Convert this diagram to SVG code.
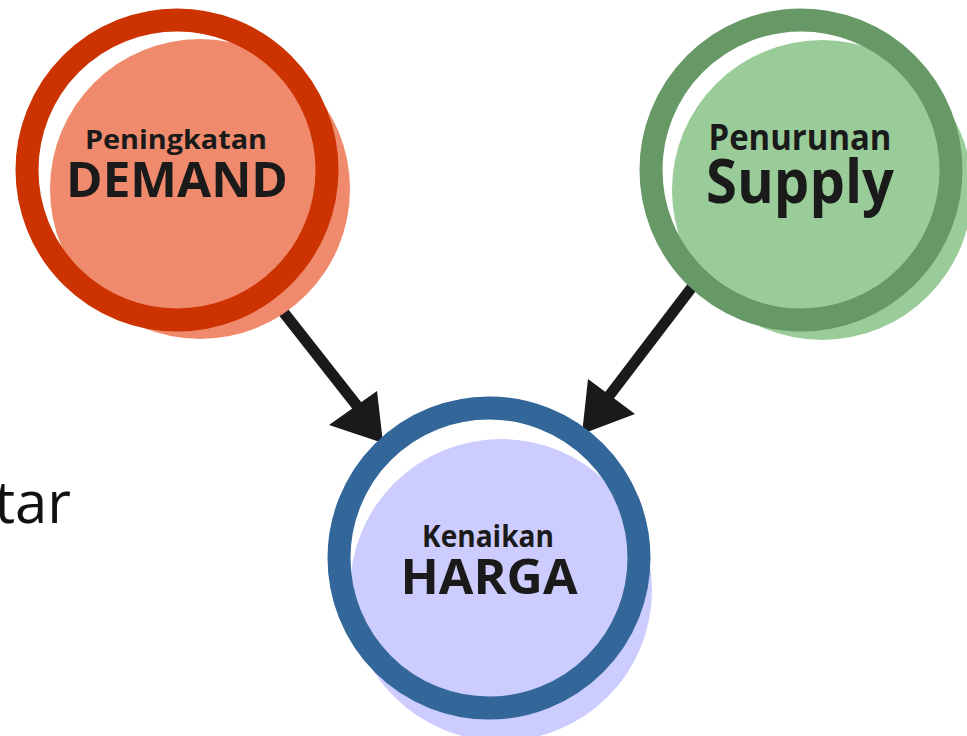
<svg xmlns="http://www.w3.org/2000/svg" width="967" height="736" viewBox="0 0 967 736">
  <defs>
    <style>
      .ring { fill: none; stroke-width: 23; }
      .lbl { font-family: "Open Sans", "Noto Sans", "DejaVu Sans", sans-serif; font-weight: bold; fill: #1a1a1a; text-anchor: middle; }
      .conn { stroke: #1a1a1a; stroke-width: 11; fill: none; }
      .head { fill: #1a1a1a; }
    </style>
  </defs>
  <rect width="967" height="736" fill="#ffffff"/>
  <text x="71" y="523" font-family="'Open Sans', 'Noto Sans', sans-serif" font-size="58" fill="#111111" text-anchor="end">tar</text>
  <g id="connectors">
    <line class="conn" x1="270" y1="295" x2="358" y2="407"/>
    <polygon class="head" points="329,425 377,391 383,443"/>
    <line class="conn" x1="702" y1="274" x2="609" y2="396"/>
    <polygon class="head" points="588,379 635,414 582,434"/>
  </g>
  <g id="node-demand">
    <circle cx="200" cy="189" r="150" fill="#ef8a6c"/>
    <circle class="ring" cx="177" cy="170" r="150" stroke="#cc3300"/>
    <text class="lbl" x="176" y="149" font-size="27" textLength="182" lengthAdjust="spacingAndGlyphs">Peningkatan</text>
    <text class="lbl" x="177" y="197" font-size="48" textLength="222" lengthAdjust="spacingAndGlyphs">DEMAND</text>
  </g>
  <g id="node-supply">
    <circle cx="822" cy="190" r="150" fill="#99cc99"/>
    <circle class="ring" cx="801" cy="170" r="150" stroke="#669966"/>
    <text class="lbl" x="800" y="150" font-size="35" textLength="183" lengthAdjust="spacingAndGlyphs">Penurunan</text>
    <text class="lbl" x="800" y="203" font-size="60" textLength="188" lengthAdjust="spacingAndGlyphs">Supply</text>
  </g>
  <g id="node-harga">
    <circle cx="501" cy="590" r="151" fill="#ccccff"/>
    <circle class="ring" cx="489" cy="558" r="150" stroke="#336699"/>
    <text class="lbl" x="488" y="547" font-size="31" textLength="132" lengthAdjust="spacingAndGlyphs">Kenaikan</text>
    <text class="lbl" x="489" y="594" font-size="49" textLength="177" lengthAdjust="spacingAndGlyphs">HARGA</text>
  </g>
</svg>
